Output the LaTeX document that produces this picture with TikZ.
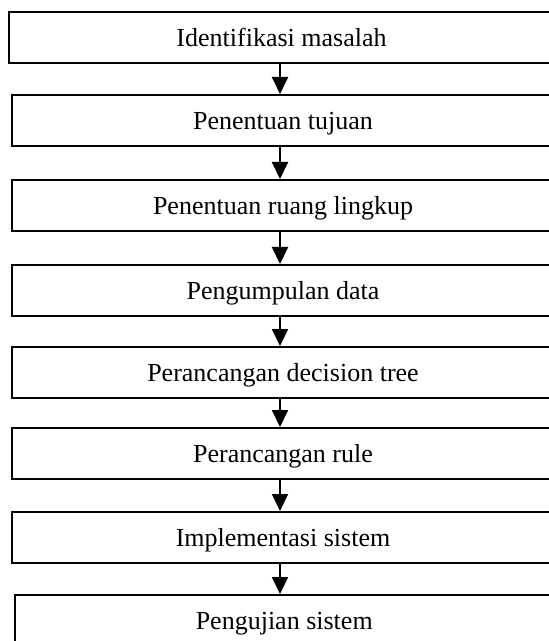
\documentclass[tikz,border=0pt]{standalone}
\usepackage{fontspec}
\setmainfont{Liberation Serif}
\usetikzlibrary{arrows.meta}
\begin{document}
\begin{tikzpicture}[x=0.5pt,y=-0.5pt,
  box/.style={draw, line width=1pt, inner sep=0pt, anchor=north west,
    minimum height=25.5pt, text height=0.9em, text depth=0pt,
    font=\fontsize{13}{15}\selectfont},
  arr/.style={line width=1pt, -{Triangle[width=8pt,length=8.5pt]}}]
\useasboundingbox (0,0) rectangle (549,641);
\coordinate (ax) at (280,0);
\node[box, minimum width=272.5pt] (b1) at (8,11) {Identifikasi masalah};
\node[box, minimum width=271pt] (b2) at (11,94) {Penentuan tujuan};
\node[box, minimum width=271pt] (b3) at (11,179) {Penentuan ruang lingkup};
\node[box, minimum width=271pt] (b4) at (11,264) {Pengumpulan data};
\node[box, minimum width=271pt] (b5) at (11,346) {Perancangan decision tree};
\node[box, minimum width=271pt] (b6) at (11,427) {Perancangan rule};
\node[box, minimum width=271pt] (b7) at (11,511) {Implementasi sistem};
\node[box, minimum width=269.75pt] (b8) at (13.5,594) {Pengujian sistem};
\foreach \a/\b in {b1/b2,b2/b3,b3/b4,b4/b5,b5/b6,b6/b7,b7/b8}
  \draw[arr] (\a.south -| ax) -- (\b.north -| ax);
\end{tikzpicture}
\end{document}
